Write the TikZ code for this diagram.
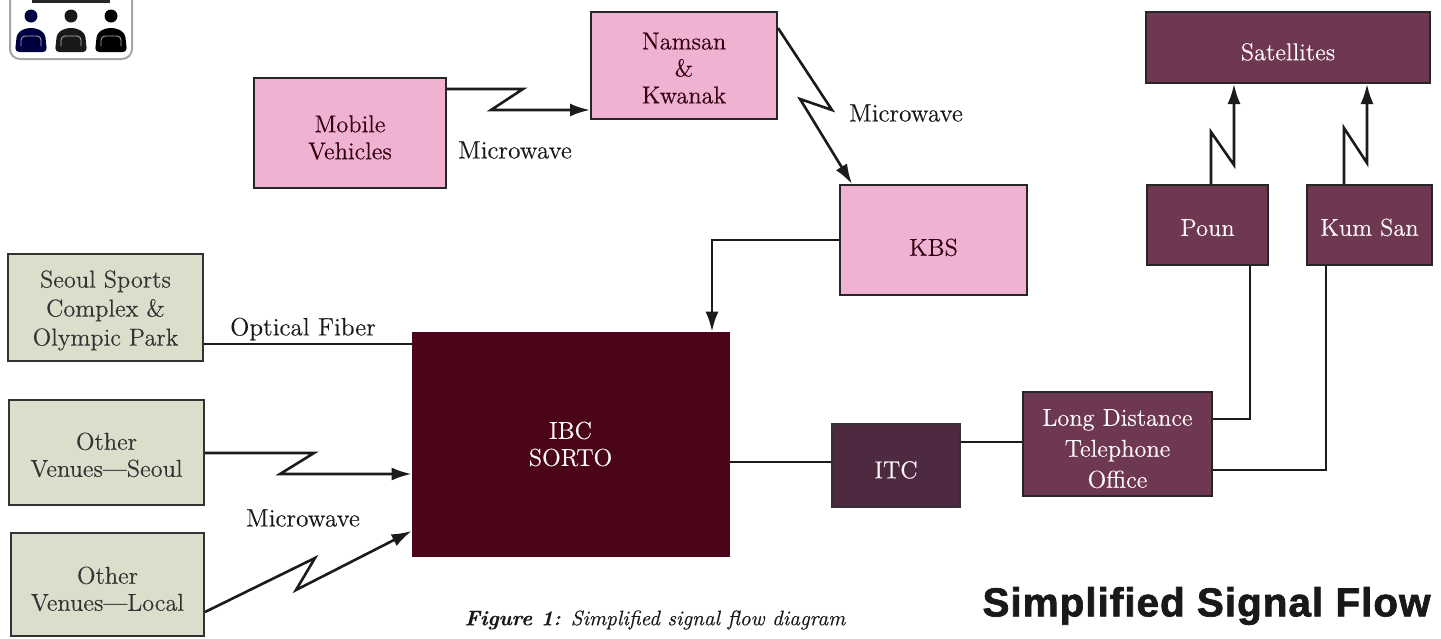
\documentclass[tikz,border=0pt]{standalone}
\usepackage{fontspec}
\setmainfont{Latin Modern Roman}[FakeBold=0.3]
\newfontfamily\titlefont[BoldFeatures={FakeBold=1.8,LetterSpace=2.5}]{Liberation Sans}
\usetikzlibrary{arrows.meta}
\definecolor{pinkbox}{HTML}{F0B2D2}
\definecolor{greenbox}{HTML}{DADFCC}
\definecolor{mauvebox}{HTML}{6F3852}
\definecolor{plumbox}{HTML}{4E2A42}
\definecolor{maroonbox}{HTML}{4A0518}
\definecolor{linkgray}{HTML}{1C1A1C}
\newcommand{\lowertext}[1]{\rule{0pt}{#1}}
\tikzset{
  signal/.style={draw=linkgray,line width=1.3pt,line join=miter},
  arrowed/.style={signal,-{Latex[length=10pt,width=6.5pt]}},
  boxtext/.style={align=center,font=\fontsize{12.2}{13.5}\selectfont,inner sep=0pt},
  lightlabel/.style={boxtext,text=white!90!pink},
}
\begin{document}
\begin{tikzpicture}[x=0.5pt,y=-0.5pt]
    \useasboundingbox (0,0) rectangle (1441,638);
    % viewer icon in the corner
    \draw[gray!70,fill=white,line width=1pt,rounded corners=5pt] (10,-10) rectangle (132,59);
    \fill[black!85] (32,0) rectangle (110,3);
    \foreach \px/\shade in {31/blue!25!black,71/black!90,111/black} {
        \fill[\shade] (\px,16) circle (6.5);
        \fill[\shade,rounded corners=2pt] (\px-16,52) -- (\px-14,33) -- (\px-5,28) -- (\px+5,28) -- (\px+14,33) -- (\px+16,52) -- cycle;
        \draw[white!70!black,line width=0.4pt,rounded corners=2pt] (\px-10,46) -- (\px-10,36) -- (\px+10,36) -- (\px+10,46);
    }
    \begin{scope}[every node/.style={draw=black!85,line width=1pt,fill=pinkbox,text=black!75!purple,boxtext}]
        \node[minimum width=96pt,minimum height=55pt] (mobile) at (350,133) {\lowertext{13pt}Mobile\\Vehicles};
        \node[minimum width=93pt,minimum height=53.5pt] (namsan) at (684,65.5) {\lowertext{11pt}Namsan\\\&\\Kwanak};
        \node[minimum width=93.5pt,minimum height=55pt] (kbs) at (933.5,240) {\lowertext{16pt}KBS};
    \end{scope}
    \begin{scope}[every node/.style={draw=black!80,line width=1pt,fill=greenbox,text=black!80,boxtext}]
        \node[minimum width=97.5pt,minimum height=53.5pt] (seoulsports) at (105.5,307.5) {\lowertext{11.5pt}Seoul Sports\\[1pt]Complex \&\\[1pt]Olympic Park};
        \node[minimum width=97.5pt,minimum height=52.5pt] (venueseoul) at (106.5,452.5) {\lowertext{11pt}Other\\Venues---Seoul};
        \node[minimum width=96.5pt,minimum height=51.5pt] (venuelocal) at (107.5,584.5) {\lowertext{13pt}Other\\Venues---Local};
    \end{scope}
    \begin{scope}[every node/.style={draw=black!85,line width=1pt,fill=mauvebox,lightlabel}]
        \node[minimum width=142pt,minimum height=35.5pt] (satellites) at (1288,47.5) {\lowertext{13pt}Satellites};
        \node[minimum width=60.5pt,minimum height=40pt] (poun) at (1207.5,225) {\lowertext{11pt}Poun};
        \node[minimum width=62.5pt,minimum height=40pt] (kumsan) at (1369.5,225) {\lowertext{11pt}Kum San};
        \node[minimum width=94.5pt,minimum height=52pt] (longdist) at (1117.5,444) {\lowertext{13pt}Long Distance\\[2pt]Telephone\\[2pt]Office};
    \end{scope}
    \node[fill=plumbox,draw=black!80,line width=1pt,lightlabel,minimum width=64pt,minimum height=41.5pt] (itc) at (896,465.5) {\lowertext{13pt}ITC};
    \node[fill=maroonbox,draw=maroonbox,lightlabel,minimum width=158.5pt,minimum height=112pt] (ibc) at (570.5,444) {IBC\\SORTO};
    % microwave hops
    \draw[arrowed] (mobile.east |- 0,89) -- (523,89) -- (491,110) -- (namsan.west |- 0,110);
    \draw[arrowed] (namsan.east |- 0,28) -- (832,110) -- (800,99) -- (852,184);
    \draw[arrowed] (poun.north -| 1211,0) -- (1211,132) -- (1234,165) -- (satellites.south -| 1234,0);
    \draw[arrowed] (kumsan.north -| 1344,0) -- (1344,128) -- (1367,163) -- (satellites.south -| 1367,0);
    \draw[arrowed] (venueseoul.east |- 0,453) -- (314,453) -- (280,474) -- (ibc.west |- 0,474);
    \draw[arrowed] (venuelocal.east |- 0,612) -- (315,558) -- (296,590) -- (ibc.west |- 0,531);
    % wired links
    \draw[arrowed] (kbs.west) -| (ibc.north -| 712,0);
    \draw[signal] (seoulsports.east |- 0,344) -- (ibc.west |- 0,344);
    \draw[signal] (ibc.east |- 0,462) -- (itc.west |- 0,462);
    \draw[signal] (itc.east |- 0,442) -- (longdist.west |- 0,442);
    \draw[signal] (longdist.east |- 0,419) -| (poun.south -| 1250,0);
    \draw[signal] (longdist.east |- 0,470) -| (kumsan.south -| 1326,0);
    % labels
    \begin{scope}[every node/.style={text=black!90,font=\fontsize{12.6}{14}\selectfont,inner sep=0pt}]
        \node (mwmobile) at (515,150) {Microwave};
        \node (mwnamsan) at (906,113) {Microwave};
        \node (mwvenues) at (303,518) {Microwave};
        \node (fiber) at (303,329) {Optical Fiber};
        \node (caption) at (655,620) {\fontsize{10.5}{13}\selectfont\itshape\textbf{Figure 1:} Simplified signal flow diagram};
        \node (heading) at (1206.5,606) {\titlefont\bfseries\fontsize{20.2}{22}\selectfont Simplified Signal Flow};
    \end{scope}
\end{tikzpicture}
\end{document}
